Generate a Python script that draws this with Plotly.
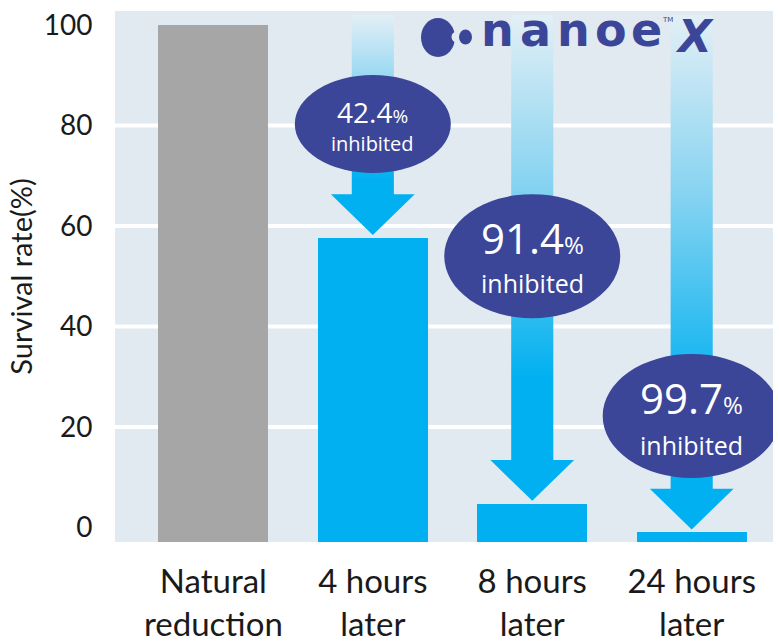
import plotly.graph_objects as go

# ---------------- data ----------------
CATEGORIES = ["Natural<br>reduction", "4 hours<br>later", "8 hours<br>later", "24 hours<br>later"]
SURVIVAL = [100, 57.6, 4.7, -1.0]          # bar tops (%)
INHIBITED = [None, 42.4, 91.4, 99.7]        # callout values (%)
Y_TICKS = [0, 20, 40, 60, 80, 100]
Y_TITLE = "Survival rate(%)"

# ---------------- style / layout constants ----------------
W, H = 779, 642
MARGIN = dict(l=115, r=6, t=11, b=100)
Y_RANGE = [-2.9, 102.8]
X_RANGE = [-0.617, 3.51]
BAR_WIDTH = 0.69
BAR_COLORS = ["#A6A6A6", "#00B0F0", "#00B0F0", "#00B0F0"]
NAVY = "#3B4699"
PLOT_BG = "#E1E9F1"
FONT = "Lato"
TEXT_COLOR = "#1A1A1A"

# arrow geometry (axis units)
SHAFT_HALF = 0.132
HEAD_HALF = 0.263
HEAD_LEN = 8.1
ARROW_TOP = 102.0
TIP_GAP = 0.6
ARROW_SCALE = [[0, "#00B0F0"], [0.25, "#00B0F0"], [0.65, "#86D3F1"], [1, "#E3EFF6"]]

# callout ellipses: centre y (axis units), radii (px), font sizes, text offsets (px)
ELLIPSE_Y = [None, 80.3, 54.0, 22.2]
ELLIPSE_R = [None, (78, 49), (88, 62), (89, 62)]
NUM_SIZE = [None, 28, 42, 42]
PCT_SIZE = [None, 19, 24, 24]
WORD_SIZE = [None, 20, 25, 25]
NUM_SHIFT = [None, 12, 19, 18]
WORD_SHIFT = [None, -19, -27, -29]

xs = list(range(len(CATEGORIES)))
base = Y_RANGE[0]

fig = go.Figure()
fig.add_trace(go.Bar(
    x=xs, y=[v - base for v in SURVIVAL], base=base, width=BAR_WIDTH,
    marker=dict(color=BAR_COLORS, line=dict(width=0)), hoverinfo="skip",
))

# gradient arrows pointing to the bar tops
for k in xs:
    if INHIBITED[k] is None:
        continue
    tip = SURVIVAL[k] + TIP_GAP
    hb = tip + HEAD_LEN
    px = [k - SHAFT_HALF, k + SHAFT_HALF, k + SHAFT_HALF, k + HEAD_HALF, k,
          k - HEAD_HALF, k - SHAFT_HALF, k - SHAFT_HALF]
    py = [ARROW_TOP, ARROW_TOP, hb, hb, tip, hb, hb, ARROW_TOP]
    fig.add_trace(go.Scatter(
        x=px, y=py, mode="lines", fill="toself", line=dict(width=0, color="rgba(0,0,0,0)"),
        fillgradient=dict(type="vertical", colorscale=ARROW_SCALE),
        hoverinfo="skip",
    ))

shapes = []
# white gridlines (not at 0 and 100)
for v in Y_TICKS[1:-1]:
    shapes.append(dict(type="line", xref="paper", x0=0, x1=1, yref="y", y0=v, y1=v,
                       line=dict(color="white", width=4), layer="below"))

annotations = []
for k in xs:
    if INHIBITED[k] is None:
        continue
    rx, ry = ELLIPSE_R[k]
    shapes.append(dict(type="circle", xref="x", yref="y", xsizemode="pixel", ysizemode="pixel",
                       xanchor=k, yanchor=ELLIPSE_Y[k], x0=-rx, x1=rx, y0=-ry, y1=ry,
                       fillcolor=NAVY, line=dict(width=0), layer="above"))
    annotations.append(dict(
        x=k, y=ELLIPSE_Y[k], xref="x", yref="y", showarrow=False, yshift=NUM_SHIFT[k],
        text=f"{INHIBITED[k]}<span style='font-size:{PCT_SIZE[k]}px'>%</span>",
        font=dict(family="Open Sans", size=NUM_SIZE[k], color="white")))
    annotations.append(dict(
        x=k, y=ELLIPSE_Y[k], xref="x", yref="y", showarrow=False, yshift=WORD_SHIFT[k],
        text="inhibited", font=dict(family="Open Sans", size=WORD_SIZE[k], color="white")))

# ---------------- nanoe X logo (paper coords from pixel positions) ----------------
PL, PR, PT, PB = MARGIN["l"], W - MARGIN["r"], MARGIN["t"], H - MARGIN["b"]
def pxx(p):
    return (p - PL) / (PR - PL)
def pxy(p):
    return (PB - p) / (PB - PT)

def blob(cx, cy, rx, ry, color):
    return dict(type="circle", xref="paper", yref="paper", xsizemode="pixel", ysizemode="pixel",
                xanchor=pxx(cx), yanchor=pxy(cy), x0=-rx, x1=rx, y0=-ry, y1=ry,
                fillcolor=color, line=dict(width=0), layer="above")

shapes.append(blob(438, 37.5, 17, 19.5, NAVY))
shapes.append(blob(457, 37, 5.5, 5.5, PLOT_BG))
shapes.append(blob(465.5, 37, 6.5, 7.5, NAVY))

LOGO_LETTERS = ["n", "a", "n", "o", "e"]
LOGO_X = [497, 535, 573, 611, 646]
for ch, cx in zip(LOGO_LETTERS, LOGO_X):
    annotations.append(dict(x=pxx(cx), y=pxy(30), xref="paper", yref="paper", showarrow=False,
                            xanchor="center", yanchor="middle", text=f"<b>{ch}</b>",
                            font=dict(family="DejaVu Sans", size=46, color=NAVY)))
annotations.append(dict(x=pxx(694), y=pxy(37), xref="paper", yref="paper", showarrow=False,
                        xanchor="center", yanchor="middle", text="<b><i>X</i></b>",
                        font=dict(family="DejaVu Sans", size=44, color=NAVY)))
annotations.append(dict(x=pxx(667), y=pxy(20), xref="paper", yref="paper", showarrow=False,
                        xanchor="center", yanchor="middle", text="TM",
                        font=dict(family="DejaVu Sans", size=7, color=NAVY)))

fig.update_layout(
    width=W, height=H, margin=MARGIN,
    paper_bgcolor="white", plot_bgcolor=PLOT_BG,
    showlegend=False, bargap=0,
    shapes=shapes, annotations=annotations,
    xaxis=dict(range=X_RANGE, tickvals=xs, ticktext=CATEGORIES, showgrid=False, zeroline=False,
               ticks="outside", ticklen=10, tickcolor="rgba(0,0,0,0)", automargin=False,
               tickfont=dict(family=FONT, size=33, color=TEXT_COLOR), fixedrange=True),
    yaxis=dict(range=Y_RANGE, tickvals=Y_TICKS, showgrid=False, zeroline=False,
               ticks="outside", ticklen=16, tickcolor="rgba(0,0,0,0)", automargin=False,
               tickfont=dict(family=FONT, size=28, color=TEXT_COLOR),
               title=dict(text=Y_TITLE, font=dict(family=FONT, size=29, color=TEXT_COLOR), standoff=2),
               fixedrange=True),
)

fig.write_html("out.html", post_script="document.body.style.margin='0px';",
               config={"displayModeBar": False})
